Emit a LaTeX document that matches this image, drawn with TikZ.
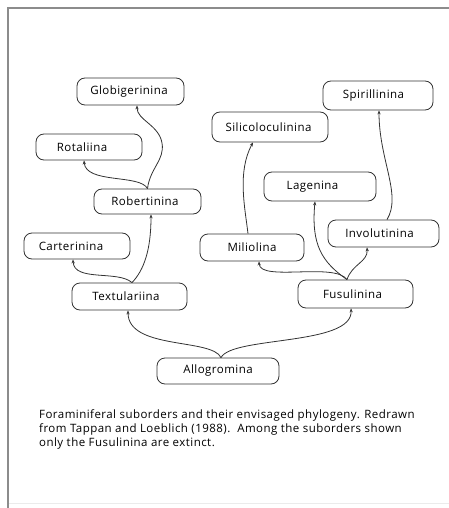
\documentclass[tikz,border=0pt]{standalone}
\usepackage{fontspec}
\setmainfont{Open Sans}[LetterSpace=4]
\usetikzlibrary{arrows.meta}
\begin{document}
\begin{tikzpicture}[x=1pt,y=-1pt,
  taxon/.style={draw=black!80, line width=0.8pt, rounded corners=8pt, inner sep=0pt,
    font=\fontsize{11.5}{13}\selectfont, text=black},
  tleft/.style={execute at end node={\hspace*{#1pt}}},
  conn/.style={draw=black!80, line width=0.8pt, -{Stealth[length=4pt,width=3.2pt]}},
  frame/.style={draw=black!45, line width=1.4pt}]
\useasboundingbox (0,0) rectangle (449,508);
\draw[frame] (449,8) -- (8,8) -- (8,508);
\draw[draw=black!8, line width=0.8pt] (9,503) -- (449,503);

\node[taxon, tleft=3, minimum width=107pt, minimum height=27pt] (glob) at (130.5,91.5) {Globigerinina};
\node[taxon, tleft=14, minimum width=106pt, minimum height=26pt] (rota) at (89,147) {Rotaliina};
\node[taxon, tleft=5, minimum width=107pt, minimum height=25pt] (robe) at (147.5,201.5) {Robertinina};
\node[taxon, tleft=12, minimum width=106pt, minimum height=26pt] (cart) at (77,246) {Carterinina};
\node[taxon, tleft=7, minimum width=115pt, minimum height=27pt] (text) at (129.5,296.5) {Textulariina};
\node[taxon, minimum width=122pt, minimum height=26pt] (allo) at (218,371) {Allogromina};
\node[taxon, minimum width=104pt, minimum height=27pt] (mili) at (252,247.5) {Miliolina};
\node[taxon, tleft=6, minimum width=115pt, minimum height=28pt] (fusu) at (355.5,294) {Fusulinina};
\node[taxon, tleft=8, minimum width=111pt, minimum height=27pt] (invo) at (383.5,233.5) {Involutinina};
\node[taxon, tleft=15, minimum width=112pt, minimum height=29pt] (lage) at (320,186.5) {Lagenina};
\node[taxon, tleft=3, minimum width=116pt, minimum height=30pt] (sili) at (270,127) {Silicoloculinina};
\node[taxon, tleft=9, minimum width=110pt, minimum height=29pt] (spir) at (378,95.5) {Spirillinina};

% connectors
\draw[conn] (robe.north) .. controls (150,168) and (165,160) .. (162,143)
  .. controls (159,125) and (137,120) .. ([xshift=6.5pt]glob.south);
\draw[conn] (robe.north) .. controls (140,174) and (86,184) .. ([xshift=-5pt]rota.south);
\draw[conn] ([xshift=2.5pt]text.north) .. controls (144,270) and (151,250) .. ([xshift=3.5pt]robe.south);
\draw[conn] ([xshift=2.5pt]text.north) .. controls (118,270) and (74,282) .. ([xshift=-4pt]cart.south);
\draw[conn] ([xshift=3pt]allo.north) .. controls (212,338) and (128,350) .. ([xshift=-1.5pt]text.south);
\draw[conn] ([xshift=3pt]allo.north) .. controls (232,336) and (353,346) .. ([xshift=-4.5pt]fusu.south);
\draw[conn] ([xshift=-8.5pt]fusu.north) .. controls (335,262) and (260,282) .. ([xshift=7pt]mili.south);
\draw[conn] ([xshift=-8.5pt]fusu.north) .. controls (322,262) and (311,245) .. ([xshift=-5pt]lage.south);
\draw[conn] ([xshift=-8.5pt]fusu.north) .. controls (352,264) and (368,262) .. ([xshift=-16.5pt]invo.south);
\draw[conn] ([xshift=-4pt]mili.north) .. controls (245,208) and (237,172) .. ([xshift=-17pt]sili.south);
\draw[conn] ([xshift=3.5pt]invo.north) .. controls (402,195) and (379,160) .. ([xshift=1pt]spir.south);

\node[anchor=north west, align=left, inner sep=0pt, text=black,
  font=\fontsize{11.5}{14}\selectfont] (cap) at (39,409)
  {Foraminiferal suborders and their envisaged phylogeny. Redrawn\\
   from Tappan and Loeblich (1988).\ \ Among the suborders shown\\
   only the Fusulinina are extinct.};
\end{tikzpicture}
\end{document}
